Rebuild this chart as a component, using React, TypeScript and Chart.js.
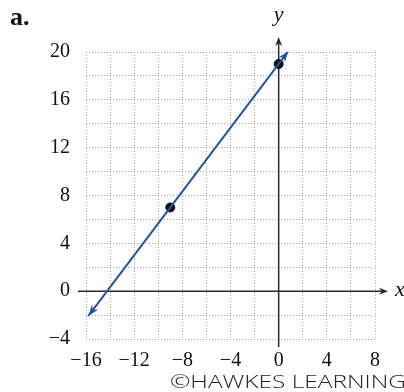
import { useEffect, useRef } from 'react';
import { Chart, registerables } from 'chart.js';
Chart.register(...registerables);

// Data
const lineXs = [-15.8, 0.8];
const lineYs = [-2.07, 20.07];
const pointXs = [-9, 0];
const pointYs = [7, 19];
const xTickLabels = [-16, -12, -8, -4, 0, 4, 8];
const yTickLabels = [-4, 0, 4, 8, 12, 16, 20];
const xRange = [-16, 8];
const yRange = [-4, 20];
const gridStep = 2;

const fmt = (v: number) => (v < 0 ? '\u2212' + Math.abs(v) : String(v));

function arrowHead(ctx: CanvasRenderingContext2D, x1: number, y1: number, x2: number, y2: number, len: number, wid: number, color: string) {
  const a = Math.atan2(y2 - y1, x2 - x1);
  ctx.save();
  ctx.translate(x2, y2);
  ctx.rotate(a);
  ctx.beginPath();
  ctx.moveTo(0, 0);
  ctx.lineTo(-len, wid / 2);
  ctx.lineTo(-len * 0.7, 0);
  ctx.lineTo(-len, -wid / 2);
  ctx.closePath();
  ctx.fillStyle = color;
  ctx.fill();
  ctx.restore();
}

const LINE_COLOR = '#1d56a6';
const AXIS_COLOR = '#2a2a2a';

const decor = {
  id: 'decor',
  beforeDatasetsDraw(chart: any) {
    const ctx = chart.ctx as CanvasRenderingContext2D;
    const xs = chart.scales.x;
    const ys = chart.scales.y;
    const { left, right, top, bottom } = chart.chartArea;
    const x0 = xs.getPixelForValue(0);
    const y0 = ys.getPixelForValue(0);
    ctx.save();
    ctx.strokeStyle = AXIS_COLOR;
    ctx.lineWidth = 1.5;
    // x axis
    const xEnd = right + 13;
    ctx.beginPath();
    ctx.moveTo(left - 8, y0);
    ctx.lineTo(xEnd - 4, y0);
    ctx.stroke();
    arrowHead(ctx, left, y0, xEnd, y0, 9, 7, AXIS_COLOR);
    // y axis
    const yEnd = top - 15;
    ctx.beginPath();
    ctx.moveTo(x0, bottom + 8);
    ctx.lineTo(x0, yEnd + 4);
    ctx.stroke();
    arrowHead(ctx, x0, bottom, x0, yEnd, 9, 7, AXIS_COLOR);
    ctx.restore();
  },
  afterDatasetsDraw(chart: any) {
    const ctx = chart.ctx as CanvasRenderingContext2D;
    const xs = chart.scales.x;
    const ys = chart.scales.y;
    const ax = xs.getPixelForValue(lineXs[0]);
    const ay = ys.getPixelForValue(lineYs[0]);
    const bx = xs.getPixelForValue(lineXs[1]);
    const by = ys.getPixelForValue(lineYs[1]);
    arrowHead(ctx, bx, by, ax, ay, 11, 8, LINE_COLOR);
    arrowHead(ctx, ax, ay, bx, by, 11, 8, LINE_COLOR);
  },
  afterDraw(chart: any) {
    const ctx = chart.ctx as CanvasRenderingContext2D;
    const xs = chart.scales.x;
    const ys = chart.scales.y;
    const x0 = xs.getPixelForValue(0);
    const y0 = ys.getPixelForValue(0);
    ctx.save();
    ctx.fillStyle = '#111';
    ctx.textBaseline = 'alphabetic';
    ctx.textAlign = 'left';
    ctx.font = 'bold 26px "Liberation Serif"';
    ctx.fillText('a.', 10, 25);
    ctx.font = 'italic 22px "Liberation Serif"';
    ctx.textAlign = 'center';
    ctx.fillText('y', x0, 21);
    ctx.textAlign = 'left';
    ctx.fillText('x', chart.chartArea.right + 20, y0 + 5);
    ctx.font = '300 19px "Open Sans"';
    const txt = '\u00A9HAWKES LEARNING';
    const w = ctx.measureText(txt).width;
    const target = 236;
    ctx.translate(170, 388);
    ctx.scale(target / w, 1);
    ctx.fillStyle = '#222';
    ctx.fillText(txt, 0, 0);
    ctx.restore();
  },
};

export default function App() {
  const ref = useRef<HTMLCanvasElement | null>(null);
  useEffect(() => {
    if (!ref.current) return;
    const tickFont = { family: '"Liberation Serif"', size: 20 };
    const chart = new Chart(ref.current, {
      type: 'scatter',
      data: {
        datasets: [
          {
            type: 'line',
            data: lineXs.map((x, i) => ({ x, y: lineYs[i] })),
            borderColor: LINE_COLOR,
            borderWidth: 2,
            pointRadius: 0,
            fill: false,
          } as any,
          {
            type: 'scatter',
            data: pointXs.map((x, i) => ({ x, y: pointYs[i] })),
            backgroundColor: '#111',
            borderColor: '#111',
            pointRadius: 4.5,
          },
        ],
      },
      options: {
        animation: false,
        responsive: false,
        layout: { padding: { left: 0, right: 29, top: 52, bottom: 0 } },
        plugins: { legend: { display: false }, tooltip: { enabled: false } },
        scales: {
          x: {
            type: 'linear',
            min: xRange[0],
            max: xRange[1],
            afterFit: (s: any) => { s.height = 53; },
            ticks: {
              stepSize: gridStep,
              autoSkip: false,
              maxRotation: 0,
              padding: 10,
              color: '#111',
              font: tickFont,
              callback: (v: any) => (xTickLabels.includes(Number(v)) ? fmt(Number(v)) : ''),
            },
            grid: { color: '#a8a8a8', lineWidth: 1, drawTicks: false },
            border: { display: false, dash: [1, 2] },
          },
          y: {
            type: 'linear',
            min: yRange[0],
            max: yRange[1],
            afterFit: (s: any) => { s.width = 86; },
            ticks: {
              stepSize: gridStep,
              autoSkip: false,
              padding: 16,
              color: '#111',
              font: tickFont,
              callback: (v: any) => (yTickLabels.includes(Number(v)) ? fmt(Number(v)) : ''),
            },
            grid: { color: '#a8a8a8', lineWidth: 1, drawTicks: false },
            border: { display: false, dash: [1, 2] },
          },
        },
      },
      plugins: [decor],
    });
    return () => chart.destroy();
  }, []);
  return (
    <div style={{ position: 'absolute', left: 0, top: 0, width: 404, height: 392, background: '#fff' }}>
      <canvas ref={ref} width={404} height={392} />
    </div>
  );
}
